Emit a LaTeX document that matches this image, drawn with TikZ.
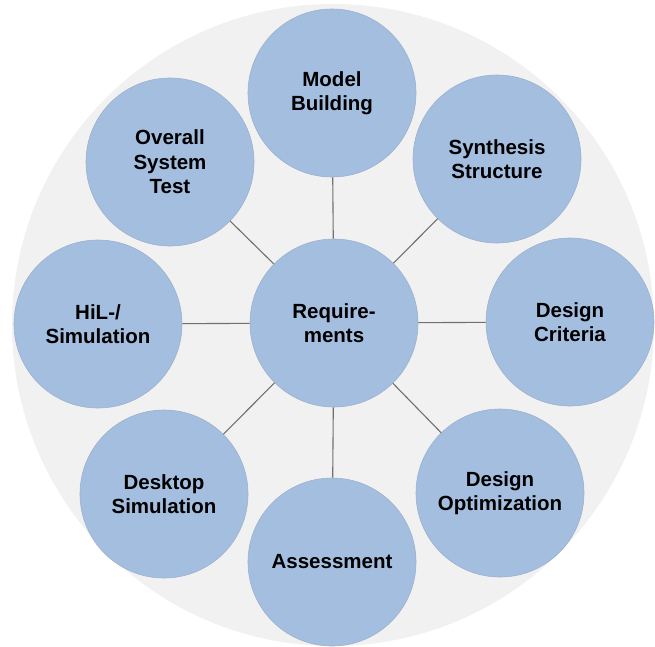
\documentclass[tikz,border=0pt]{standalone}
\usepackage{fontspec}
\setmainfont{Liberation Sans}
\definecolor{bggray}{HTML}{F1F1F1}
\definecolor{bubble}{HTML}{A4BEDF}
\definecolor{bubbleedge}{HTML}{9DB1CC}
\definecolor{conngray}{HTML}{707070}
\begin{document}
\begin{tikzpicture}[x=1pt,y=-1pt,
  bubblenode/.style={circle, minimum size=168pt, inner sep=0pt, fill=bubble, draw=bubbleedge, line width=0.6pt,
    align=center, font=\fontsize{20.5}{24.5}\selectfont\bfseries, text=black},
  conn/.style={draw=conngray, line width=1.1pt}]
\useasboundingbox (0,0) rectangle (655,646);
\fill[bggray] (333,325) circle (321);
\node[bubblenode] (req) at (334,323) {Require-\\ments};
\node[bubblenode] (model) at (332,93) {Model\\Building};
\node[bubblenode] (synth) at (497,159) {Synthesis\\Structure};
\node[bubblenode] (crit) at (570,322) {Design\\Criteria};
\node[bubblenode] (optim) at (500,493) {Design\\Optimization};
\node[bubblenode] (assess) at (332,562) {Assessment};
\node[bubblenode] (desk) at (164,494) {Desktop\\Simulation};
\node[bubblenode] (hil) at (98,324) {HiL-/\\Simulation};
\node[bubblenode] (overall) at (170,162) {Overall\\System\\Test};
\foreach \t in {model,synth,crit,optim,assess,desk,hil,overall}
  \draw[conn] (req) -- (\t);
\end{tikzpicture}
\end{document}
